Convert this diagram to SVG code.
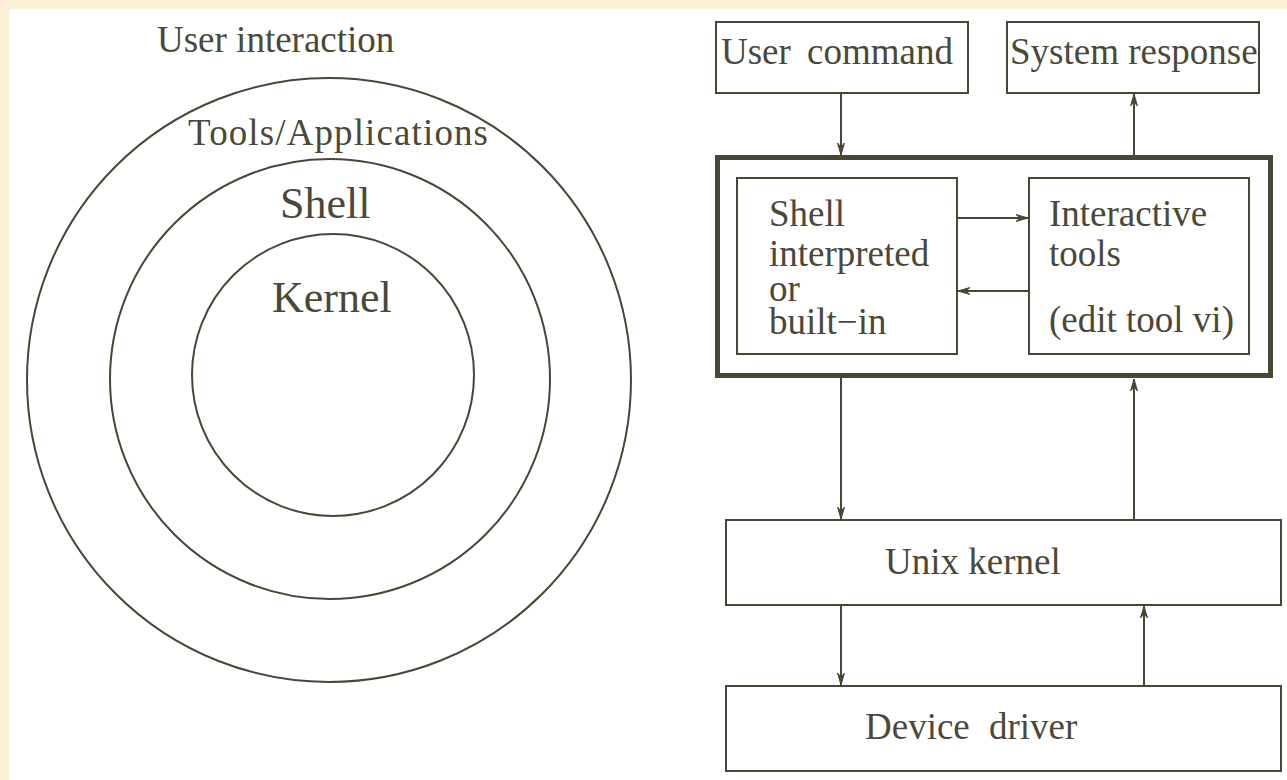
<svg xmlns="http://www.w3.org/2000/svg" width="1287" height="780" viewBox="0 0 1287 780">
<style>
.ln{fill:none;stroke:#4a4636;stroke-width:2}
.thick{fill:none;stroke:#4a4636;stroke-width:5}
.box{fill:#ffffff;stroke:#4a4636;stroke-width:2}
.t{font-family:"Liberation Serif","Times New Roman",serif;fill:#4b4838;font-size:37px}
.big{font-size:44px}
.arr{stroke:#4a4636;stroke-width:2;fill:none}
</style>
<defs>
<marker id="ah" markerUnits="userSpaceOnUse" markerWidth="16" markerHeight="12" viewBox="-13 -6 14 12" refX="0" refY="0" orient="auto">
<path d="M0,0 L-12,-3.5 L-8,0 L-12,3.5 Z" fill="#4a4636" stroke="#4a4636" stroke-width="1"/>
</marker>
</defs>
<rect x="0" y="0" width="1287" height="780" fill="#fbefd6"/>
<rect x="9" y="9" width="1278" height="771" fill="#ffffff"/>

<g id="layers">
<circle class="ln" cx="329" cy="380" r="302"/>
<circle class="ln" cx="330" cy="379" r="220"/>
<circle class="ln" cx="333" cy="375" r="141"/>
<text class="t" x="157" y="52">User interaction</text>
<text class="t" x="188" y="145" textLength="300">Tools/Applications</text>
<text class="t big" x="280" y="218">Shell</text>
<text class="t big" x="272" y="312">Kernel</text>
</g>

<g id="user-command">
<rect class="box" x="716" y="22" width="252" height="71"/>
<text class="t" x="721" y="64" style="word-spacing:7px">User command</text>
</g>
<g id="system-response">
<rect class="box" x="1007" y="22" width="252" height="71"/>
<text class="t" x="1010" y="64">System response</text>
</g>
<g id="shell-group">
<rect class="thick" x="717.5" y="157.5" width="553" height="218" fill="#ffffff"/>
</g>
<g id="shell">
<rect class="box" x="737" y="178" width="220" height="176"/>
<text class="t" x="769" y="226">Shell</text>
<text class="t" x="769" y="266">interpreted</text>
<text class="t" x="769" y="301">or</text>
<text class="t" x="769" y="334">built−in</text>
</g>
<g id="interactive-tools">
<rect class="box" x="1029" y="178" width="220" height="176"/>
<text class="t" x="1049" y="226">Interactive</text>
<text class="t" x="1049" y="266">tools</text>
<text class="t" x="1049" y="332">(edit tool vi)</text>
</g>
<g id="unix-kernel">
<rect class="box" x="726" y="520" width="555" height="85"/>
<text class="t" x="885" y="574">Unix kernel</text>
</g>
<g id="device-driver">
<rect class="box" x="726" y="686" width="555" height="85"/>
<text class="t" x="865" y="739" style="word-spacing:10px">Device driver</text>
</g>

<g id="connectors">
<line class="arr" x1="841" y1="93" x2="841" y2="155" marker-end="url(#ah)"/>
<line class="arr" x1="1134" y1="155" x2="1134" y2="94" marker-end="url(#ah)"/>
<line class="arr" x1="957" y1="218" x2="1028" y2="218" marker-end="url(#ah)"/>
<line class="arr" x1="1029" y1="291" x2="958" y2="291" marker-end="url(#ah)"/>
<line class="arr" x1="841" y1="378" x2="841" y2="519" marker-end="url(#ah)"/>
<line class="arr" x1="1134" y1="520" x2="1134" y2="379" marker-end="url(#ah)"/>
<line class="arr" x1="841" y1="605" x2="841" y2="685" marker-end="url(#ah)"/>
<line class="arr" x1="1144" y1="686" x2="1144" y2="606" marker-end="url(#ah)"/>
</g>
</svg>
